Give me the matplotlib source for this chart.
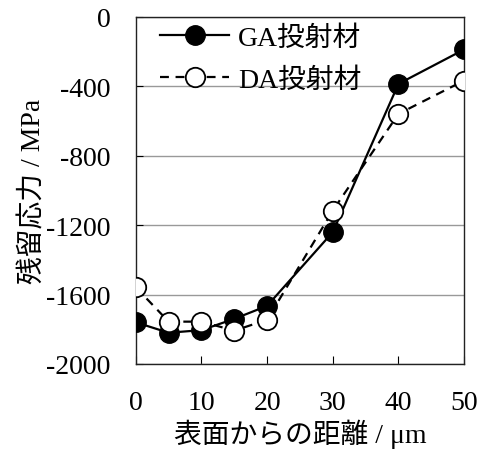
import matplotlib
matplotlib.use('Agg')
import matplotlib.pyplot as plt

plt.rcParams['font.family'] = ['Liberation Serif', 'Noto Sans CJK JP']
plt.rcParams['axes.unicode_minus'] = False

depth = [0, 5, 10, 15, 20, 30, 40, 50]
ga_stress = [-1760, -1820, -1805, -1740, -1665, -1240, -386, -188]
da_stress = [-1558, -1756, -1756, -1808, -1745, -1116, -559, -367]

fig = plt.figure(figsize=(4.85, 4.52), dpi=100)
ax = fig.add_axes([0.280, 0.1925, 0.677, 0.768])

ax.plot(depth, ga_stress, color='black', lw=1.6, marker='o', ms=14,
        markerfacecolor='black', markeredgecolor='black', label='GA投射材',
        zorder=3)
ax.plot(depth, da_stress, color='black', lw=1.6, ls=(0, (4, 3)), marker='o',
        ms=14, markerfacecolor='white', markeredgecolor='black',
        markeredgewidth=1.3, label='DA投射材', zorder=3)

ax.set_xlim(0, 50)
ax.set_ylim(-2000, 0)
ax.set_xticks([0, 10, 20, 30, 40, 50])
ax.set_yticks([0, -400, -800, -1200, -1600, -2000])
ax.yaxis.grid(True, color='#999999', lw=1.0)
ax.set_axisbelow(True)

ax.tick_params(axis='x', direction='in', length=6, width=0.8, pad=19,
               labelsize=20)
ax.tick_params(axis='y', direction='in', length=5, width=0.8, pad=18,
               labelsize=20)
for s in ax.spines.values():
    s.set_linewidth(1.0)
    s.set_color('#222222')

ax.set_xlabel('表面からの距離 / μm', fontsize=20, labelpad=2)
ax.set_ylabel('残留応力 / MPa', fontsize=20, labelpad=0)

ax.legend(loc='upper left', bbox_to_anchor=(0.04, 1.008), frameon=False,
          fontsize=20, handlelength=2.5, borderaxespad=0, labelspacing=0.6,
          handletextpad=0.3)

fig.savefig('out.png', dpi=100)
